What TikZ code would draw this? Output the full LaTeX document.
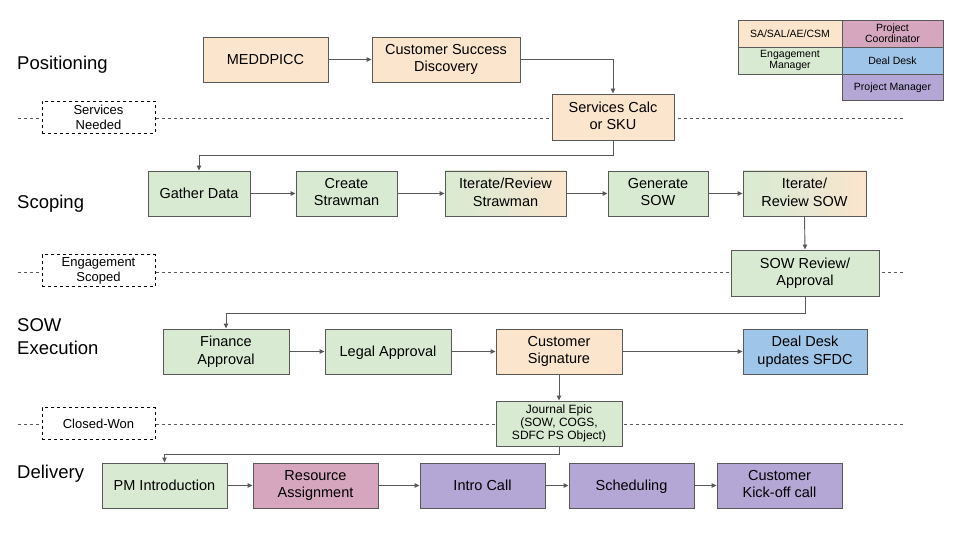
\documentclass[tikz,border=0pt]{standalone}
\usepackage{fontspec}
\setmainfont{Liberation Sans}
\usetikzlibrary{arrows.meta}
\definecolor{cor}{HTML}{FCE5CD}
\definecolor{cgr}{HTML}{D9EAD3}
\definecolor{cpk}{HTML}{D5A6BD}
\definecolor{cbl}{HTML}{9FC5E8}
\definecolor{cpu}{HTML}{B4A7D6}
\definecolor{cln}{HTML}{595959}
\newcommand\bstrut{\vrule width0pt height 13.2pt depth 2.8pt\relax}
\newcommand\sstrut{\vrule width0pt height 11pt depth 2.4pt\relax}
\newcommand\lstrut{\vrule width0pt height 9.6pt depth 2pt\relax}
\tikzset{
  box/.style={draw=cln, line width=0.9pt, align=center, font=\fontsize{14.5}{17.5}\selectfont, inner sep=0pt,
    execute at begin node=\bstrut, execute at end node=\bstrut},
  small/.style={font=\fontsize{12}{13}\selectfont, execute at begin node=\sstrut, execute at end node=\sstrut},
  leg/.style={draw=cln, line width=0.9pt, align=center, font=\fontsize{10.5}{11.5}\selectfont, inner sep=0pt, minimum height=27pt,
    execute at begin node=\lstrut, execute at end node=\lstrut},
  gate/.style={draw=black, dashed, line width=0.8pt, align=center, font=\fontsize{13}{15}\selectfont, fill=white, minimum width=113pt, minimum height=32pt, inner sep=0pt},
  sect/.style={anchor=west, align=left, font=\fontsize{18.5}{23}\selectfont, inner sep=0pt},
  conn/.style={draw=cln, line width=0.9pt, -{Triangle[length=5pt,width=4.5pt]}},
  sep/.style={draw=cln, dashed, line width=0.7pt}
}
\begin{document}
\begin{tikzpicture}[x=1pt,y=-1pt]
\useasboundingbox (0,0) rectangle (960,540);
% separators
\draw[sep] (18,118) -- (905,118);
\draw[sep] (18,272) -- (905,272);
\draw[sep] (18,424) -- (905,424);
% legend
\node[leg, fill=cor, minimum width=104pt] (l1) at (790,34) {SA/SAL/AE/CSM};
\node[leg, fill=cpk, minimum width=101pt] (l2) at (892.5,34) {Project\\Coordinator};
\node[leg, fill=cgr, minimum width=104pt] (l3) at (790,60.5) {Engagement\\Manager};
\node[leg, fill=cbl, minimum width=101pt] (l4) at (892.5,60.5) {Deal Desk};
\node[leg, fill=cpu, minimum width=101pt, minimum height=26pt] (l5) at (892.5,87) {Project Manager};
% section labels
\node[sect] (s1) at (17,65) {Positioning};
\node[sect] (s2) at (17,204) {Scoping};
\node[sect] (s3) at (17,337) {SOW\\Execution};
\node[sect] (s4) at (17,474) {Delivery};
% gates
\node[gate] (g1) at (98.5,117) {Services\\Needed};
\node[gate] (g2) at (98.5,270.5) {Engagement\\Scoped};
\node[gate] (g3) at (98.5,423.5) {Closed-Won};
% positioning
\node[box, fill=cor, minimum width=125pt, minimum height=45pt] (a1) at (265.5,59.5) {MEDDPICC};
\node[box, fill=cor, minimum width=148pt, minimum height=45pt] (a2) at (446,59.5) {Customer Success\\Discovery};
\node[box, fill=cor, minimum width=122pt, minimum height=46pt] (a3) at (613,117) {Services Calc\\or SKU};
% scoping
\node[box, fill=cgr, minimum width=102pt, minimum height=45pt] (b1) at (199,193.5) {Gather Data};
\node[box, fill=cgr, minimum width=101pt, minimum height=45pt] (b2) at (346.5,193.5) {Create\\Strawman};
\node[box, left color=cgr, right color=cor, middle color=cgr!60!cor, minimum width=121pt, minimum height=45pt] (b3) at (505.5,193.5) {Iterate/Review\\Strawman};
\node[box, fill=cgr, minimum width=100pt, minimum height=45pt] (b4) at (658,193.5) {Generate\\SOW};
\node[box, left color=cgr, right color=cor, middle color=cgr!60!cor, minimum width=123pt, minimum height=45pt] (b5) at (804.5,193.5) {Iterate/\\Review SOW};
\node[box, fill=cgr, minimum width=148pt, minimum height=46pt] (b6) at (805,273) {SOW Review/\\Approval};
% SOW execution
\node[box, fill=cgr, minimum width=126pt, minimum height=45pt] (c1) at (226,351.5) {Finance\\Approval};
\node[box, fill=cgr, minimum width=126pt, minimum height=45pt] (c2) at (388,351.5) {Legal Approval};
\node[box, fill=cor, minimum width=126pt, minimum height=45pt] (c3) at (559,351.5) {Customer\\Signature};
\node[box, fill=cbl, minimum width=124pt, minimum height=45pt] (c4) at (805,351.5) {Deal Desk\\updates SFDC};
\node[box, small, fill=cgr, minimum width=126pt, minimum height=45pt] (c5) at (559,423.5) {Journal Epic\\(SOW, COGS,\\SDFC PS Object)};
% delivery
\node[box, fill=cgr, minimum width=125pt, minimum height=45pt] (d1) at (164.5,485.5) {PM Introduction};
\node[box, fill=cpk, minimum width=125pt, minimum height=45pt] (d2) at (315.5,485.5) {Resource\\Assignment};
\node[box, fill=cpu, minimum width=125pt, minimum height=45pt] (d3) at (482.5,485.5) {Intro Call};
\node[box, fill=cpu, minimum width=125pt, minimum height=45pt] (d4) at (631.5,485.5) {Scheduling};
\node[box, fill=cpu, minimum width=125pt, minimum height=45pt] (d5) at (779.5,485.5) {Customer\\Kick-off call};
% connectors
\draw[conn] (a1) -- (a2);
\draw[conn] (a2.east) -| (a3.north);
\draw[conn] (a3.south) -- ++(0,15) -| (b1.north);
\draw[conn] (b1) -- (b2);
\draw[conn] (b2) -- (b3);
\draw[conn] (b3) -- (b4);
\draw[conn] (b4) -- (b5);
\draw[conn] (b5.south) -- (b6.north);
\draw[conn] (b6.south) -- ++(0,17) -| (c1.north);
\draw[conn] (c1) -- (c2);
\draw[conn] (c2) -- (c3);
\draw[conn] (c3) -- (c4);
\draw[conn] (c3.south) -- (c5.north);
\draw[conn] (c5.south) -- ++(0,8) -| (d1.north);
\draw[conn] (d1) -- (d2);
\draw[conn] (d2) -- (d3);
\draw[conn] (d3) -- (d4);
\draw[conn] (d4) -- (d5);
\end{tikzpicture}
\end{document}
